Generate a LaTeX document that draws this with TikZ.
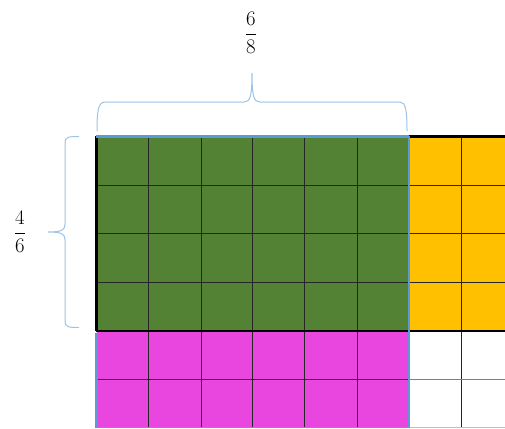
\documentclass[tikz,border=0pt]{standalone}
\usepackage{amsmath}
\definecolor{gr}{HTML}{548235}
\definecolor{ye}{HTML}{FFC000}
\definecolor{pk}{HTML}{E846DE}
\definecolor{bl}{HTML}{5B9BD5}
\definecolor{br}{HTML}{9DC3E6}
\tikzset{
  thin grid/.style={black!85, line width=0.8pt},
  thick black/.style={black, line width=2.6pt},
  blue edge/.style={bl, line width=2.4pt},
  bracestyle/.style={br, line width=1pt},
  frac/.style={font=\fontsize{19.5}{22}\selectfont, inner sep=0pt}
}
\begin{document}
\begin{tikzpicture}[x=1pt,y=-1pt]
\useasboundingbox (0,0) rectangle (505,428);
\clip (0,0) rectangle (505,428);
% fills
\fill[gr] (96.5,136.5) rectangle (409,331);
\fill[ye] (409,136.5) rectangle (505,331);
\fill[pk] (96.5,331) rectangle (409,428);
\fill[white] (409,331) rectangle (505,428);
% thin grid lines
\foreach \x in {148.5,201,252.5,304.5,357,461.5}
  \draw[thin grid] (\x,136.5) -- (\x,428);
\foreach \y in {185,233.5,282}
  \draw[thin grid] (96.5,\y) -- (505,\y);
\draw[thin grid] (96.5,379.5) -- (409,379.5);
\draw[black!50, line width=0.8pt] (409,379.5) -- (505,379.5);
\draw[black!25, line width=1pt] (409,427.5) -- (505,427.5);
% thick black borders
\draw[thick black] (409,136.5) -- (505,136.5);
\draw[thick black] (96.5,135.5) -- (96.5,331);
\draw[thick black] (95.5,331) -- (505,331);
% blue borders
\draw[blue edge] (95.5,136.5) -- (409,136.5);
\draw[blue edge] (409,135.5) -- (409,428);
\draw[blue edge] (96.5,332.5) -- (96.5,428);
\draw[bl, line width=1.2pt] (96.5,427.5) -- (409,427.5);
% top brace
\draw[bracestyle] (97,131) .. controls (97,112) and (98,102) .. (105,102)
  -- (244,102) .. controls (250,102) and (252,97) .. (252,73)
  .. controls (252,97) and (254,102) .. (260,102)
  -- (400,102) .. controls (406,102) and (407,112) .. (407,131);
% left brace
\draw[bracestyle] (79,136.5) .. controls (68,136.5) and (65,137) .. (65,143)
  -- (65,224) .. controls (65,230) and (62,232) .. (48,232)
  .. controls (62,232) and (65,234) .. (65,240)
  -- (65,321) .. controls (65,327) and (68,327.5) .. (79,327.5);
% labels
\node[frac] (topfrac) at (251,33) {$\dfrac{6}{8}$};
\node[frac] (leftfrac) at (20,232) {$\dfrac{4}{6}$};
\end{tikzpicture}
\end{document}
